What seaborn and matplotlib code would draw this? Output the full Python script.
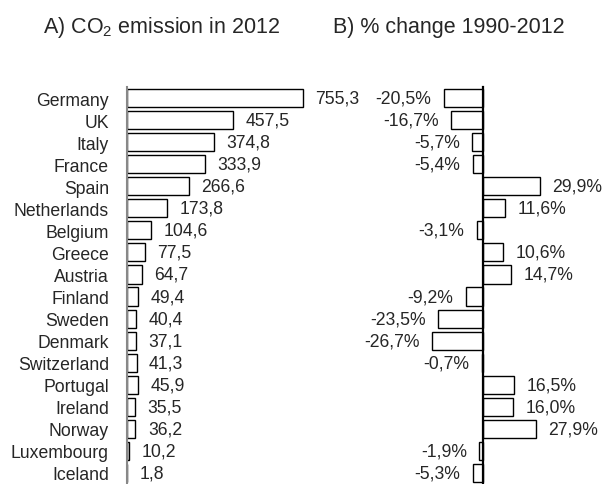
import pandas as pd
import matplotlib.pyplot as plt
import seaborn as sns

# Data
countries = ['Germany', 'UK', 'Italy', 'France', 'Spain', 'Netherlands', 'Belgium',
             'Greece', 'Austria', 'Finland', 'Sweden', 'Denmark', 'Switzerland',
             'Portugal', 'Ireland', 'Norway', 'Luxembourg', 'Iceland']
emission_2012 = [755.3, 457.5, 374.8, 333.9, 266.6, 173.8, 104.6, 77.5, 64.7,
                 49.4, 40.4, 37.1, 41.3, 45.9, 35.5, 36.2, 10.2, 1.8]
change_1990_2012 = [-20.5, -16.7, -5.7, -5.4, 29.9, 11.6, -3.1, 10.6, 14.7,
                    -9.2, -23.5, -26.7, -0.7, 16.5, 16.0, 27.9, -1.9, -5.3]

df = pd.DataFrame({'country': countries,
                   'emission': emission_2012,
                   'change': change_1990_2012})

sns.set_style('white')
plt.rcParams['font.family'] = ['Liberation Sans', 'DejaVu Sans']

fig = plt.figure(figsize=(6.06, 4.85), dpi=100)
W, H = 606, 485
fs = 12.7

# Panel A: absolute emissions
ax1 = fig.add_axes([127 / W, 0, 200 / W, 397 / H])
sns.barplot(data=df, x='emission', y='country', ax=ax1, color='white',
            edgecolor='black', linewidth=1.0, width=0.82, saturation=1)
ax1.set_xlim(0, 200 / 0.2325)
ax1.set_ylim(len(countries) - 0.5, -0.5)
ax1.set_xticks([])
ax1.set_xlabel('')
ax1.set_ylabel('')
ax1.tick_params(axis='y', length=0, pad=13, labelsize=fs)
for side in ['top', 'right', 'bottom']:
    ax1.spines[side].set_visible(False)
ax1.spines['left'].set_color('#888888')
ax1.spines['left'].set_linewidth(1.5)
for i, v in enumerate(emission_2012):
    ax1.annotate(f'{v:.1f}'.replace('.', ','), (v, i), xytext=(9, 0),
                 textcoords='offset points', ha='left', va='center', fontsize=fs)

# Panel B: percentage change
ax2 = fig.add_axes([407 / W, 0, 152 / W, 397 / H])
sns.barplot(data=df, x='change', y='country', ax=ax2, color='white',
            edgecolor='black', linewidth=1.0, width=0.82, saturation=1)
ax2.set_xlim(-40, 40)
ax2.set_ylim(len(countries) - 0.5, -0.5)
ax2.set_xticks([])
ax2.set_yticks([])
ax2.set_xlabel('')
ax2.set_ylabel('')
for side in ['top', 'right', 'bottom']:
    ax2.spines[side].set_visible(False)
ax2.spines['left'].set_position(('data', 0))
ax2.spines['left'].set_color('black')
ax2.spines['left'].set_linewidth(1.6)
for i, v in enumerate(change_1990_2012):
    label = f'{v:.1f}%'.replace('.', ',')
    if v < 0:
        ax2.annotate(label, (v, i), xytext=(-9, 0), textcoords='offset points',
                     ha='right', va='center', fontsize=fs)
    else:
        ax2.annotate(label, (v, i), xytext=(9, 0), textcoords='offset points',
                     ha='left', va='center', fontsize=fs)

# Panel titles
fig.text(162 / W, 1 - 33 / H, r'A) CO$_\mathregular{2}$ emission in 2012',
         ha='center', va='baseline', fontsize=15.5)
fig.text(449 / W, 1 - 33 / H, 'B) % change 1990-2012',
         ha='center', va='baseline', fontsize=15.5)

fig.savefig('out.png', dpi=100)
